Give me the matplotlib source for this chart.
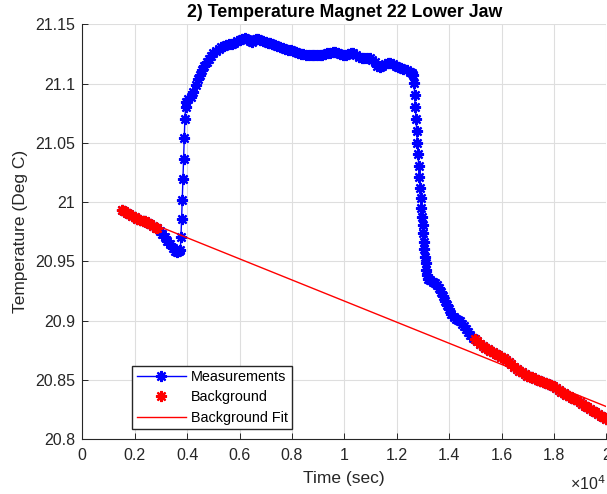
import matplotlib
matplotlib.use("Agg")
import matplotlib.pyplot as plt
import numpy as np

plt.rcParams['font.family'] = ['Liberation Sans', 'DejaVu Sans']

# ---- data ----
time_s = [
    1500, 1600, 1700, 1800, 1900, 2000, 2100, 2200, 2300, 2400, 2500, 2600, 2700, 2800, 2850,
    2950, 3050, 3150, 3250, 3350, 3450, 3550, 3620, 3680, 3740,
    3765, 3790, 3815, 3840, 3865, 3890, 3915, 3940,
    3970, 4050, 4150, 4237, 4330, 4410, 4492, 4580, 4660, 4748, 4830, 4910, 5000, 5100, 5200,
    5300, 5400, 5500, 5600, 5700, 5800, 5900, 6000, 6100, 6210, 6300, 6400, 6466, 6550, 6630,
    6718, 6800, 6900, 7000, 7100, 7164, 7250, 7350, 7450, 7546, 7650, 7750, 7850, 7950, 8053,
    8150, 8250, 8350, 8435, 8550, 8650, 8750, 8850, 8950, 9072, 9150, 9250, 9350, 9450, 9550,
    9645, 9750, 9850, 9962, 10050, 10150, 10250, 10344, 10450, 10560, 10664, 10750, 10850,
    10981, 11070, 11160, 11260, 11363, 11450, 11550, 11650, 11744, 11850, 11960, 12061, 12150,
    12250, 12382, 12500, 12580, 12634,
    12660, 12685, 12710, 12735, 12760, 12785, 12810, 12835, 12860, 12885, 12910, 12935, 12960,
    12985, 13010, 13035, 13060, 13085, 13110, 13135, 13160,
    13210, 13290, 13370, 13450, 13530, 13610, 13690, 13770, 13850, 13930, 14010, 14090, 14170,
    14250, 14330, 14410, 14490, 14570, 14650, 14730, 14810, 14900,
    14980, 15080, 15180, 15280, 15380, 15480, 15580, 15680, 15780, 15880, 15980, 16080, 16180,
    16280, 16380, 16480, 16580, 16680, 16780, 16880, 16980, 17080, 17180, 17280, 17380, 17480,
    17580, 17680, 17780, 17880, 17980, 18080, 18180, 18280, 18380, 18480, 18580, 18680, 18780,
    18880, 18980, 19080, 19180, 19280, 19380, 19480, 19580, 19680, 19780, 19880, 19980,
]
temperature = [
    20.9930, 20.9922, 20.9910, 20.9898, 20.9885, 20.9873, 20.9862, 20.9852, 20.9845, 20.9838,
    20.9825, 20.9812, 20.9798, 20.9785, 20.9778,
    20.9760, 20.9735, 20.9705, 20.9675, 20.9645, 20.9615, 20.9592, 20.9582, 20.9585, 20.9597,
    20.9704, 20.9855, 21.0018, 21.0193, 21.0361, 21.0539, 21.0699, 21.0800,
    21.0845, 21.0870, 21.0890, 21.0932, 21.0990, 21.1035, 21.1073, 21.1115, 21.1150, 21.1185,
    21.1210, 21.1235, 21.1255, 21.1275, 21.1290, 21.1305, 21.1313, 21.1325, 21.1332, 21.1338,
    21.1343, 21.1355, 21.1365, 21.1372, 21.1382, 21.1372, 21.1358, 21.1353, 21.1365, 21.1374,
    21.1376, 21.1368, 21.1358, 21.1350, 21.1345, 21.1340, 21.1332, 21.1322, 21.1316, 21.1311,
    21.1300, 21.1292, 21.1285, 21.1280, 21.1275, 21.1265, 21.1258, 21.1250, 21.1247, 21.1244,
    21.1243, 21.1242, 21.1242, 21.1241, 21.1241, 21.1245, 21.1250, 21.1256, 21.1262, 21.1266,
    21.1269, 21.1258, 21.1246, 21.1241, 21.1245, 21.1250, 21.1254, 21.1255, 21.1245, 21.1225,
    21.1213, 21.1215, 21.1216, 21.1213, 21.1200, 21.1178, 21.1152, 21.1142, 21.1150, 21.1162,
    21.1170, 21.1171, 21.1165, 21.1152, 21.1142, 21.1135, 21.1125, 21.1115, 21.1100, 21.1088,
    21.1073,
    21.1002, 21.0904, 21.0805, 21.0699, 21.0603, 21.0501, 21.0406, 21.0304, 21.0210, 21.0117,
    21.0033, 20.9948, 20.9877, 20.9807, 20.9737, 20.9666, 20.9602, 20.9540, 20.9484, 20.9428,
    20.9386,
    20.9350, 20.9340, 20.9330, 20.9315, 20.9300, 20.9278, 20.9245, 20.9205, 20.9170, 20.9135,
    20.9095, 20.9055, 20.9030, 20.9018, 20.9005, 20.8995, 20.8975, 20.8952, 20.8928, 20.8902,
    20.8878, 20.8858,
    20.8845, 20.8825, 20.8805, 20.8785, 20.8772, 20.8762, 20.8748, 20.8735, 20.8722, 20.8712,
    20.8698, 20.8682, 20.8665, 20.8650, 20.8632, 20.8612, 20.8592, 20.8580, 20.8565, 20.8550,
    20.8538, 20.8529, 20.8522, 20.8512, 20.8500, 20.8490, 20.8482, 20.8472, 20.8465, 20.8458,
    20.8447, 20.8432, 20.8415, 20.8400, 20.8388, 20.8375, 20.8364, 20.8352, 20.8342, 20.8330,
    20.8315, 20.8300, 20.8285, 20.8272, 20.8258, 20.8242, 20.8228, 20.8212, 20.8200, 20.8185,
    20.8168,
]
# background windows (seconds)
bg_windows = [(1500, 2850), (14980, 20000)]
# linear background fit: T = intercept + slope * t
fit_intercept = 21.0056
fit_slope = -8.9e-6
fit_range = [1500, 20000]

x_ticks = [0, 2000, 4000, 6000, 8000, 10000, 12000, 14000, 16000, 18000, 20000]
x_tick_labels = ['0', '0.2', '0.4', '0.6', '0.8', '1', '1.2', '1.4', '1.6', '1.8', '2']
y_ticks = [20.8, 20.85, 20.9, 20.95, 21.0, 21.05, 21.1, 21.15]
y_tick_labels = ['20.8', '20.85', '20.9', '20.95', '21', '21.05', '21.1', '21.15']

title = '2) Temperature Magnet 22 Lower Jaw'
xlabel = 'Time (sec)'
ylabel = 'Temperature (Deg C)'

# ---- derived ----
t = np.array(time_s, dtype=float)
T = np.array(temperature, dtype=float)
mask = np.zeros_like(t, dtype=bool)
for a, b in bg_windows:
    mask |= (t >= a) & (t <= b)
fit_t = np.array(fit_range, dtype=float)
fit_T = fit_intercept + fit_slope * fit_t

# ---- figure ----
fig = plt.figure(figsize=(6.07, 4.94), dpi=100)
ax = fig.add_axes([82.3 / 607, 1 - 439.3 / 494, 524 / 607, 415 / 494])

ast = (8, 2, 0)
dark = '#262626'
ax.plot(t, T, color='blue', lw=1.0, marker=ast, ms=8, mew=1.6,
        mec='blue', mfc='blue', label='Measurements', zorder=3)
ax.plot(t[mask], T[mask], ls='none', marker=ast, ms=8, mew=1.6,
        mec='red', mfc='red', color='red', label='Background', zorder=4)
ax.plot(fit_t, fit_T, color='red', lw=1.0, label='Background Fit', zorder=5)

ax.set_xlim(0, 20000)
ax.set_ylim(20.8, 21.15)
ax.set_xticks(x_ticks)
ax.set_xticklabels(x_tick_labels)
ax.set_yticks(y_ticks)
ax.set_yticklabels(y_tick_labels)

ax.grid(True, color='#dedede', lw=0.8)
ax.set_axisbelow(True)
for s in ['top', 'right']:
    ax.spines[s].set_visible(False)
for s in ['left', 'bottom']:
    ax.spines[s].set_color(dark)
    ax.spines[s].set_linewidth(0.8)
ax.tick_params(axis='both', direction='in', length=4, width=0.7, color=dark,
               labelcolor=dark, labelsize=11.5)
ax.tick_params(axis='x', pad=6)
ax.tick_params(axis='y', pad=5)

ax.set_title(title, fontsize=12.8, fontweight='bold', color='black', pad=5)
ax.set_xlabel(xlabel, fontsize=12.5, color=dark)
ax.set_ylabel(ylabel, fontsize=12.5, color=dark)
ax.xaxis.set_label_coords(0.5, -0.077)
ax.yaxis.set_label_coords(-0.103, 0.5)

fig.text(570 / 607, 1 - 490 / 494, '\u00d710$^{4}$', fontsize=11.5, color=dark,
         va='baseline', ha='left')

leg = ax.legend(loc='lower left', bbox_to_anchor=(0.0954, 0.0241), borderaxespad=0,
                fontsize=10.4, handlelength=3.4, fancybox=False, framealpha=1,
                edgecolor=dark, labelspacing=0.45, borderpad=0.3, handletextpad=0.35)
leg.get_frame().set_linewidth(1.0)
for txt in leg.get_texts():
    txt.set_color('black')

fig.savefig('out.png', dpi=100)
